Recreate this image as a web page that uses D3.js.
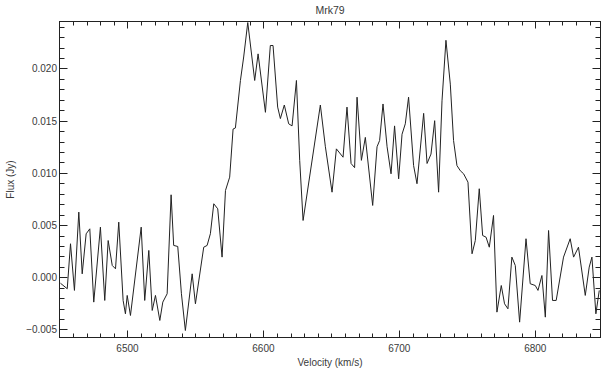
<!DOCTYPE html>
<html><head><meta charset="utf-8">
<script src="https://cdn.jsdelivr.net/npm/d3@7"></script>
<style>body{margin:0;background:#fff}svg{display:block}text{font-family:"Liberation Sans",Arial,sans-serif;fill:#3a3a3a}</style>
</head><body><svg id="c" width="610" height="373"></svg>
<script>
const title = "Mrk79";
const xLabel = "Velocity (km/s)";
const yLabel = "Flux (Jy)";
const xTicks = [6500, 6600, 6700, 6800];
const yTicks = [-0.005, 0.000, 0.005, 0.010, 0.015, 0.020];
const velocity = [6450.7,6455.7,6458.1,6461.0,6464.2,6466.7,6469.6,6472.3,6475.2,6480.1,6483.3,6485.8,6488.8,6491.2,6493.6,6496.8,6498.5,6499.8,6502.2,6510.1,6512.7,6515.7,6518.2,6520.6,6523.8,6526.0,6529.2,6532.1,6534.0,6537.0,6539.7,6542.6,6547.6,6550.0,6556.1,6558.6,6561.0,6563.5,6566.4,6569.6,6572.1,6575.2,6577.7,6579.4,6583.1,6585.5,6588.5,6593.6,6596.1,6601.5,6605.1,6607.1,6610.5,6612.5,6615.4,6618.6,6621.1,6624.3,6626.7,6629.2,6641.9,6645.6,6650.5,6653.7,6658.6,6661.5,6664.5,6667.1,6668.9,6672.1,6675.0,6680.4,6683.6,6685.5,6688.0,6691.0,6693.9,6696.5,6699.5,6702.0,6704.4,6706.8,6710.5,6713.0,6717.9,6720.4,6723.3,6726.0,6728.9,6731.4,6734.3,6737.5,6739.9,6742.4,6744.9,6747.3,6750.5,6753.5,6755.9,6758.8,6761.3,6763.8,6766.2,6769.3,6771.8,6775.0,6777.4,6779.9,6782.8,6785.3,6788.5,6793.2,6796.3,6800.0,6802.0,6804.9,6807.4,6809.8,6812.7,6815.4,6820.8,6825.7,6828.2,6831.8,6836.8,6839.7,6841.7,6844.6,6847.1];
const fluxMilli = [-0.57,-1.10,3.21,-1.26,6.24,0.33,4.16,4.64,-2.38,4.80,-2.22,3.52,1.13,0.81,5.28,-2.22,-3.50,-1.74,-3.66,4.80,-2.22,2.57,-3.18,-1.74,-4.14,-2.38,-1.58,7.90,3.05,2.95,-1.58,-5.10,0.33,-2.54,2.88,3.05,4.17,7.04,6.56,1.93,8.31,9.59,14.2,14.3,18.85,21.1,24.4,18.85,21.4,15.8,22.2,22.2,16.3,15.2,16.5,14.7,14.5,18.85,11.2,5.44,16.5,12.5,8.15,12.3,11.5,16.3,10.9,10.5,17.25,11.2,13.4,6.88,12.5,13.1,16.6,12.5,9.91,14.5,9.43,13.7,14.7,17.25,10.7,8.96,15.7,10.9,11.8,15.0,8.15,16.9,22.7,18.5,13.1,10.7,10.2,9.91,9.11,2.25,3.52,8.48,4.0,3.84,2.88,5.92,-3.34,-0.79,-2.54,-3.02,1.93,1.13,-4.30,3.69,-0.62,-0.79,-1.26,0.17,-3.82,4.48,-2.22,-2.22,1.93,3.69,1.93,2.88,-1.74,0.97,1.93,-3.50,-1.26];
const flux = fluxMilli.map(v => v / 1000);

const L = 59.5, R = 600.5, T = 21.5, B = 337.5;
const xDomain = [6450, 6848];
const yDomain = [-0.00577, 0.0245];
const x = d3.scaleLinear().domain(xDomain).range([L, R]);
const y = d3.scaleLinear().domain(yDomain).range([B, T]);
const svg = d3.select("#c");

svg.append("rect").attr("x", L).attr("y", T).attr("width", R - L).attr("height", B - T)
  .attr("fill", "none").attr("stroke", "#222").attr("stroke-width", 1);

const xMinor = d3.range(6460, 6850, 10).filter(v => !xTicks.includes(v));
const yMinor = d3.range(-5, 25, 1).map(v => v / 1000).filter(v => !yTicks.some(t => Math.abs(t - v) < 1e-9));

const g = svg.append("g").attr("stroke", "#222").attr("stroke-width", 1);
function xt(vals, len) {
  vals.forEach(v => {
    const px = Math.round(x(v)) + 0.5;
    g.append("line").attr("x1", px).attr("x2", px).attr("y1", B).attr("y2", B - len);
    g.append("line").attr("x1", px).attr("x2", px).attr("y1", T).attr("y2", T + len);
  });
}
function yt(vals, len) {
  vals.forEach(v => {
    const py = Math.round(y(v)) + 0.5;
    g.append("line").attr("y1", py).attr("y2", py).attr("x1", L).attr("x2", L + len);
    g.append("line").attr("y1", py).attr("y2", py).attr("x1", R).attr("x2", R - len);
  });
}
xt(xTicks, 7); xt(xMinor, 4);
yt(yTicks, 8); yt(yMinor, 5);

svg.selectAll(".xl").data(xTicks).enter().append("text")
  .attr("x", d => x(d)).attr("y", 352).attr("text-anchor", "middle").attr("font-size", 10).text(d => d);
svg.selectAll(".yl").data(yTicks).enter().append("text")
  .attr("x", 57).attr("y", d => y(d) + 4).attr("text-anchor", "end").attr("font-size", 10)
  .text(d => d3.format(".3f")(d).replace("-", "\u2212"));

svg.append("text").attr("x", (L + R) / 2).attr("y", 14).attr("text-anchor", "middle").attr("font-size", 10.5).text(title);
svg.append("text").attr("x", (L + R) / 2).attr("y", 366).attr("text-anchor", "middle").attr("font-size", 10).text(xLabel);
svg.append("text").attr("transform", `translate(14,${(T + B) / 2}) rotate(-90)`).attr("text-anchor", "middle").attr("font-size", 10).text(yLabel);

const line = d3.line().x((d, i) => x(velocity[i])).y(d => y(d));
svg.append("path").datum(flux).attr("d", line).attr("fill", "none").attr("stroke", "#222").attr("stroke-width", 1);
</script></body></html>
